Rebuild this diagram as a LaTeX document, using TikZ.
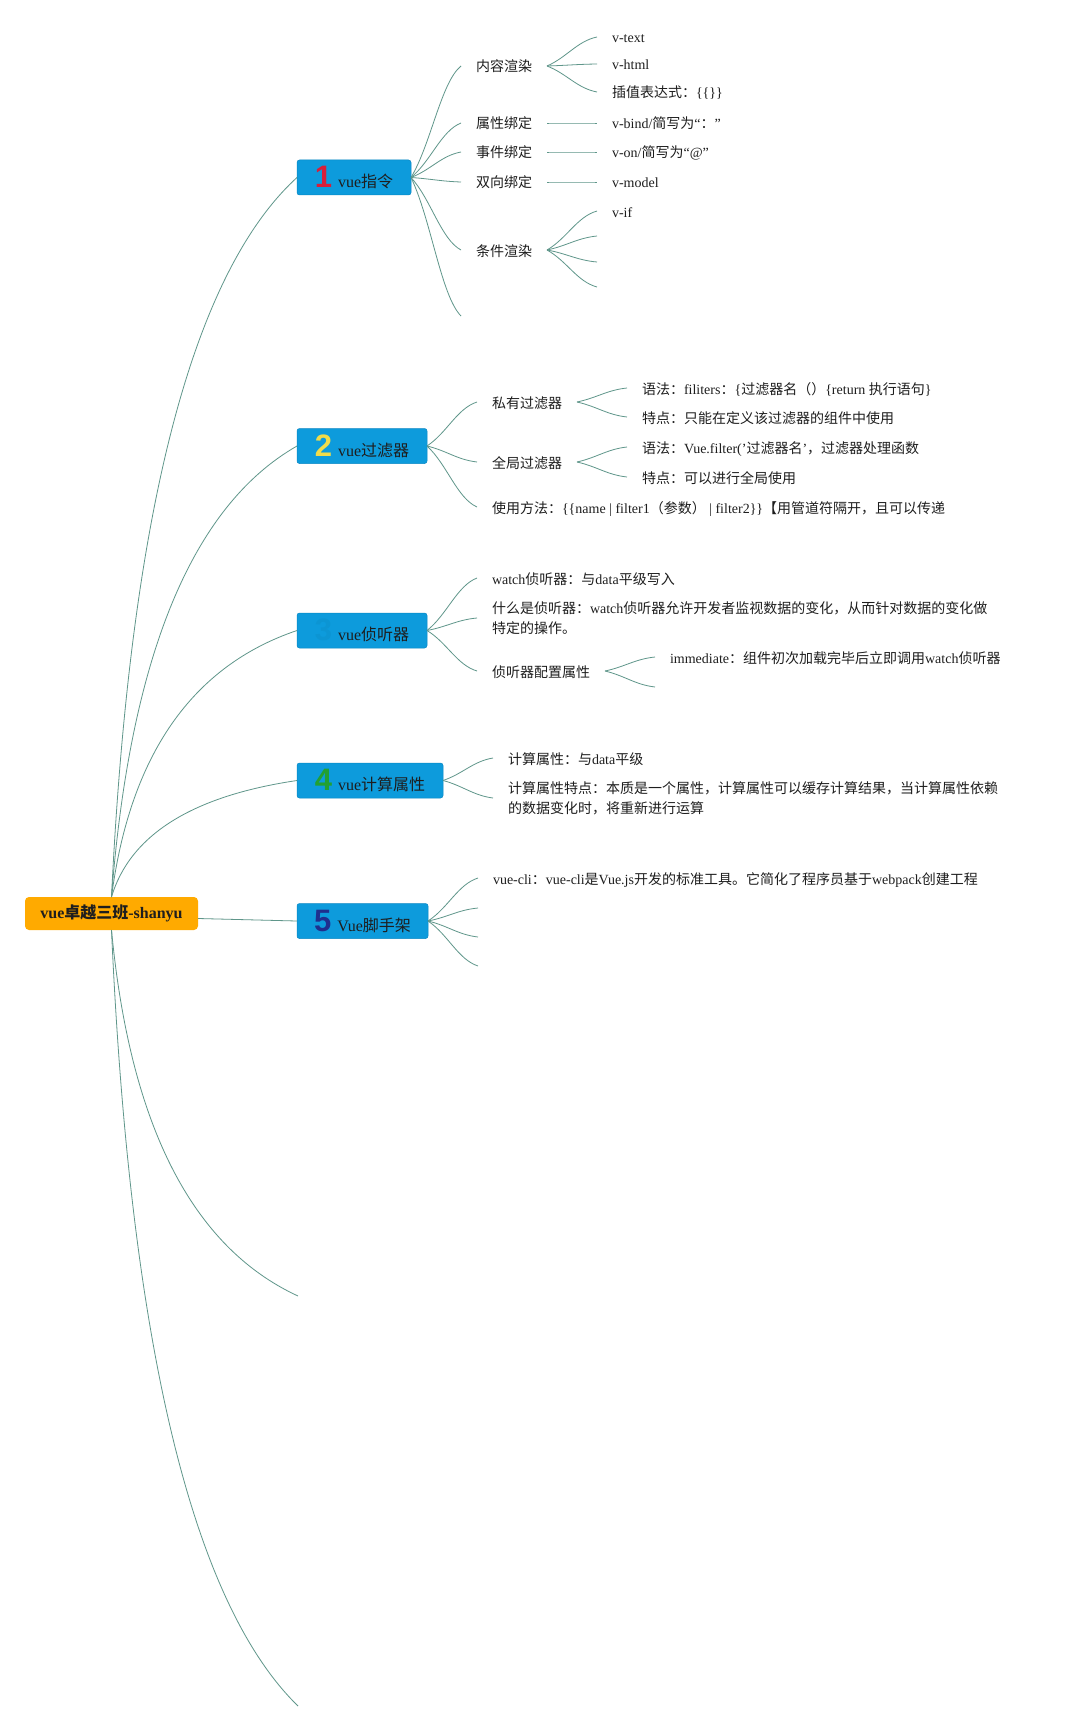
\documentclass[tikz,border=0pt]{standalone}
\usepackage{fontspec}
\setmainfont{Liberation Serif}
\newfontfamily\cjkfont{Noto Sans CJK SC}
\newfontfamily\numfont{Liberation Sans}
\XeTeXinterchartokenstate=1
\newXeTeXintercharclass\cjkclass
\newcount\cjkcode
\def\setcjkrange#1#2{\cjkcode=#1\relax
  \loop\XeTeXcharclass\cjkcode=\cjkclass
  \ifnum\cjkcode<#2\relax\advance\cjkcode by 1\repeat}
\setcjkrange{"4E00}{"9FFF}
\setcjkrange{"3000}{"303F}
\setcjkrange{"FF00}{"FFEF}
\XeTeXinterchartoks 0 \cjkclass={\cjkfont}
\XeTeXinterchartoks 4095 \cjkclass={\cjkfont}
\XeTeXinterchartoks \cjkclass 0={\rmfamily}
\XeTeXinterchartoks \cjkclass 4095={\rmfamily}
\usetikzlibrary{calc}
\definecolor{mmBlue}{HTML}{0D9BDC}
\definecolor{mmBlueEdge}{HTML}{0A88C4}
\definecolor{mmOrange}{HTML}{FFAA00}
\definecolor{mmLine}{HTML}{5F968A}
\definecolor{mmInk}{HTML}{1E1E1E}
\definecolor{mmRed}{HTML}{D81E3A}
\definecolor{mmYellow}{HTML}{F0DC4A}
\definecolor{mmGreen}{HTML}{22A033}
\definecolor{mmNavy}{HTML}{1F2F8E}
\newcommand\topicnum[2]{{\numfont\bfseries\fontsize{31}{31}\selectfont\color{#1}#2}\hspace{6pt}}
\tikzset{
  mm map/.style={
    line width=0.8pt,
    every node/.style={text=mmInk, inner sep=0pt, outer sep=0pt}
  },
  mm root/.style={fill=mmOrange, rounded corners=4pt, minimum width=173pt,
    minimum height=33pt, font=\bfseries\fontsize{16}{19}\selectfont},
  mm topic/.style={anchor=west, fill=mmBlue, draw=mmBlueEdge, line width=0.5pt,
    rounded corners=2.5pt, minimum height=35pt, font=\fontsize{16}{19}\selectfont},
  mm leaf/.style={anchor=west, inner xsep=15pt, text height=13.5pt, text depth=1.5pt,
    font=\fontsize{14}{20}\selectfont},
  mm note/.style={anchor=west, inner xsep=15pt, align=left,
    font=\fontsize{14}{20}\selectfont},
  mm link/.style={draw=mmLine, line width=0.8pt},
  mm kid/.style={mm link, to path={let \p1=(\tikztostart), \p2=(\tikztotarget) in
    .. controls ({\x1+0.4*(\x2-\x1)},{\y1+0.3*(\y2-\y1)})
    and ({\x2-0.4*(\x2-\x1)},{\y2-0.146*(\y2-\y1)}) .. (\tikztotarget)}}
}

\begin{document}
\begin{tikzpicture}[mm map,x=1pt,y=1pt]
  \fill[white] (0,0) rectangle (1068,-1731);
  \useasboundingbox (0,0) rectangle (1068,-1731);

  \node[mm root] (root) at (111.5,-913.5) {vue卓越三班-shanyu};
  \node[mm topic, minimum width=114pt] (b1) at (297,-177.5) {\topicnum{mmRed}{1}vue指令};
  \node[mm topic, minimum width=130pt] (b2) at (297,-446) {\topicnum{mmYellow}{2}vue过滤器};
  \node[mm topic, minimum width=130pt] (b3) at (297,-630.5) {\topicnum{mmBlue!96!black}{3}vue侦听器};
  \node[mm topic, minimum width=146pt] (b4) at (297,-780.5) {\topicnum{mmGreen}{4}vue计算属性};
  \node[mm topic, minimum width=131pt] (b5) at (297,-921) {\topicnum{mmNavy}{5}Vue脚手架};
  \coordinate (b6) at (298,-1296);
  \coordinate (b7) at (298,-1706);

  \draw[mm link] (root.north) .. controls (130,-513) and (192,-273.5) .. (b1.west);
  \draw[mm link] (root.north) .. controls (130,-656.5) and (192,-506) .. (b2.west);
  \draw[mm link] (root.north) .. controls (130,-755) and (192,-666) .. (b3.west);
  \draw[mm link] (root.north) .. controls (130,-835) and (192,-796) .. (b4.west);
  \draw[mm link] ([yshift=-5pt]root.east) -- (b5.west);
  \draw[mm link] (root.south) .. controls (130,-1125) and (192,-1247) .. (b6);
  \draw[mm link] (root.south) .. controls (130,-1344) and (192,-1602.5) .. (b7);

  % vue指令
  \node[mm leaf] (c11) at (461,-66) {内容渲染};
  \node[mm leaf] (c12) at (461,-123) {属性绑定};
  \node[mm leaf] (c13) at (461,-152) {事件绑定};
  \node[mm leaf] (c14) at (461,-182) {双向绑定};
  \node[mm leaf] (c15) at (461,-250) {条件渲染};
  \coordinate (c16) at (461,-316);
  \node[mm leaf] (d111) at (597,-37) {v-text};
  \node[mm leaf] (d112) at (597,-64) {v-html};
  \node[mm leaf] (d113) at (597,-92) {插值表达式：\{\{\}\}};
  \node[mm leaf] (d121) at (597,-123) {v-bind/简写为“：”};
  \node[mm leaf] (d131) at (597,-152) {v-on/简写为“@”};
  \node[mm leaf] (d141) at (597,-182) {v-model};
  \node[mm leaf] (d151) at (597,-211) {v-if};
  \coordinate (d152) at (597,-236);
  \coordinate (d153) at (597,-262);
  \coordinate (d154) at (597,-287);
  \foreach \k in {c11,c12,c13,c14,c15}
    \draw[mm kid] (b1.east) to (\k.west);
  \draw[mm kid] (b1.east) to (c16);
  \foreach \k in {d111,d112,d113}
    \draw[mm kid] (c11.east) to (\k.west);
  \draw[mm kid] (c12.east) to (d121.west);
  \draw[mm kid] (c13.east) to (d131.west);
  \draw[mm kid] (c14.east) to (d141.west);
  \draw[mm kid] (c15.east) to (d151.west);
  \foreach \k in {d152,d153,d154}
    \draw[mm kid] (c15.east) to (\k);

  % vue过滤器
  \node[mm leaf] (c21) at (477,-402) {私有过滤器};
  \node[mm leaf] (c22) at (477,-462) {全局过滤器};
  \node[mm leaf] (c23) at (477,-507) {使用方法：\{\{name | filter1（参数） | filter2\}\}【用管道符隔开，且可以传递};
  \node[mm leaf] (d211) at (627,-388) {语法：filiters：\{过滤器名（）\{return 执行语句\}};
  \node[mm leaf] (d212) at (627,-417) {特点：只能在定义该过滤器的组件中使用};
  \node[mm leaf] (d221) at (627,-447) {语法：Vue.filter('过滤器名'，过滤器处理函数};
  \node[mm leaf] (d222) at (627,-477) {特点：可以进行全局使用};
  \foreach \k in {c21,c22,c23}
    \draw[mm kid] (b2.east) to (\k.west);
  \draw[mm kid] (c21.east) to (d211.west);
  \draw[mm kid] (c21.east) to (d212.west);
  \draw[mm kid] (c22.east) to (d221.west);
  \draw[mm kid] (c22.east) to (d222.west);

  % vue侦听器
  \node[mm leaf] (c31) at (477,-578) {watch侦听器：与data平级写入};
  \node[mm note] (c32) at (477,-618) {什么是侦听器：watch侦听器允许开发者监视数据的变化，从而针对数据的变化做\\特定的操作。};
  \node[mm leaf] (c33) at (477,-671) {侦听器配置属性};
  \node[mm leaf] (d331) at (655,-657) {immediate：组件初次加载完毕后立即调用watch侦听器};
  \coordinate (d332) at (655,-687);
  \foreach \k in {c31,c32,c33}
    \draw[mm kid] (b3.east) to (\k.west);
  \draw[mm kid] (c33.east) to (d331.west);
  \draw[mm kid] (c33.east) to (d332);

  % vue计算属性
  \node[mm leaf] (c41) at (493,-758) {计算属性：与data平级};
  \node[mm note] (c42) at (493,-798) {计算属性特点：本质是一个属性，计算属性可以缓存计算结果，当计算属性依赖\\的数据变化时，将重新进行运算};
  \draw[mm kid] (b4.east) to (c41.west);
  \draw[mm kid] (b4.east) to (c42.west);

  % Vue脚手架
  \node[mm leaf] (c51) at (478,-878) {vue-cli：vue-cli是Vue.js开发的标准工具。它简化了程序员基于webpack创建工程};
  \coordinate (c52) at (478,-908);
  \coordinate (c53) at (478,-937);
  \coordinate (c54) at (478,-966);
  \draw[mm kid] (b5.east) to (c51.west);
  \foreach \k in {c52,c53,c54}
    \draw[mm kid] (b5.east) to (\k);
\end{tikzpicture}
\end{document}
